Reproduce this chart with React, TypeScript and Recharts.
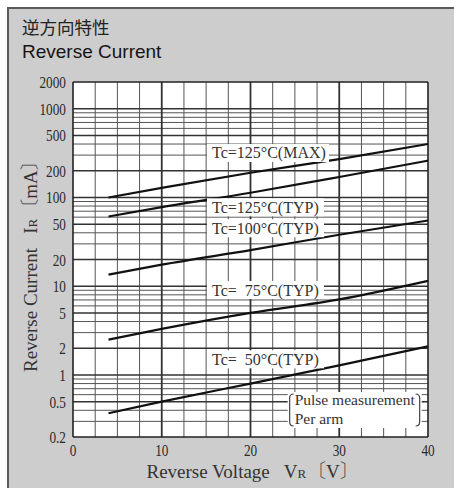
import React from 'react';
import { ComposedChart, Line, XAxis, YAxis, CartesianGrid, ReferenceLine, ReferenceDot } from 'recharts';

// ---- data ----
const voltage = [4, 10, 20, 30, 40];
const tc125Max = [100, 128, 190, 270, 400];
const tc125Typ = [61, 78, 113, 170, 260];
const tc100Typ = [13.5, 17.5, 25.5, 38, 55];
const tc75Typ = [2.5, 3.3, 5.0, 7.1, 11.5];
const tc50Typ = [0.37, 0.5, 0.8, 1.28, 2.1];

const xTicks = [0, 10, 20, 30, 40];
const yTicks = [0.2, 0.5, 1, 2, 5, 10, 20, 50, 100, 200, 500, 1000, 2000];
const yTickLabels = ['0.2', '0.5', '1', '2', '5', '10', '20', '50', '100', '200', '500', '1000', '2000'];

const xGridMinor = [2.5, 5, 7.5, 12.5, 15, 17.5, 22.5, 25, 27.5, 32.5, 35, 37.5];
const xGridMajor = [10, 20, 30];
const yGridMinor = [0.3, 0.4, 0.6, 0.7, 0.8, 0.9, 3, 4, 6, 7, 8, 9, 30, 40, 60, 70, 80, 90, 300, 400, 600, 700, 800, 900];
const yGridMajor = [0.5, 1, 2, 5, 10, 20, 50, 100, 200, 500, 1000];

const curveLabels = ['Tc=125°C(MAX)', 'Tc=125°C(TYP)', 'Tc=100°C(TYP)', 'Tc=  75°C(TYP)', 'Tc=  50°C(TYP)'];
const curveLabelV = [15.66, 15.66, 15.66, 15.66, 15.66];
const curveLabelI = [317, 77.5, 45, 9.05, 1.5];

const noteLines = ['Pulse measurement', 'Per arm'];
const noteV = 24.3;
const noteI = 0.643;

const title1 = '逆方向特性';
const title2 = 'Reverse Current';

const data = voltage.map((v, i) => ({
  v,
  max125: tc125Max[i],
  typ125: tc125Typ[i],
  typ100: tc100Typ[i],
  typ75: tc75Typ[i],
  typ50: tc50Typ[i],
}));

const SERIF = "'Liberation Serif', 'Noto Serif CJK JP', 'Noto Sans CJK JP', serif";
const SANS = "'Liberation Sans', Arial, sans-serif";
const CJK = "'Noto Sans CJK JP', sans-serif";

const YTick = (props: any) => {
  const { x, y, payload } = props;
  const idx = yTicks.findIndex((t) => Math.abs(t - payload.value) < 1e-9 * Math.max(1, t));
  const label = idx >= 0 ? yTickLabels[idx] : String(payload.value);
  return (
    <text
      transform={`translate(${x - 5} ${y + 6}) scale(0.78 1)`}
      textAnchor="end"
      fontSize={17}
      fontFamily={SERIF}
      fill="#2a2a2a"
    >
      {label}
    </text>
  );
};

const XTick = (props: any) => {
  const { x, y, payload } = props;
  return (
    <text
      transform={`translate(${x} ${y + 17}) scale(0.78 1)`}
      textAnchor="middle"
      fontSize={17}
      fontFamily={SERIF}
      fill="#2a2a2a"
    >
      {String(payload.value)}
    </text>
  );
};

const makeCurveLabel = (text: string, w: number) => (props: any) => {
  const { cx, cy } = props;
  return (
    <g>
      <rect x={cx - 5} y={cy - 9} width={w + 9} height={18} fill="#fff" />
      <text
        x={cx}
        y={cy + 5.5}
        fontSize={16}
        fontFamily={SERIF}
        fill="#333"
        style={{ whiteSpace: 'pre' }}
      >
        {text}
      </text>
    </g>
  );
};

const NoteShape = (props: any) => {
  const { cx, cy } = props;
  const w = 131;
  const h = 36;
  return (
    <g>
      <rect x={cx - 1} y={cy} width={w + 3} height={h} fill="#fff" />
      <path
        d={`M${cx + 5},${cy + 2} Q${cx + 1},${cy + 2} ${cx + 1},${cy + 6} L${cx + 1},${cy + h - 6} Q${cx + 1},${cy + h - 2} ${cx + 5},${cy + h - 2}`}
        fill="none"
        stroke="#444"
        strokeWidth={1.2}
      />
      <path
        d={`M${cx + w - 4},${cy + 2} Q${cx + w},${cy + 2} ${cx + w},${cy + 6} L${cx + w},${cy + h - 6} Q${cx + w},${cy + h - 2} ${cx + w - 4},${cy + h - 2}`}
        fill="none"
        stroke="#444"
        strokeWidth={1.2}
      />
      <text x={cx + 6} y={cy + 13} fontSize={15.5} fontFamily={SERIF} fill="#333">
        {noteLines[0]}
      </text>
      <text x={cx + 6} y={cy + 32} fontSize={15.5} fontFamily={SERIF} fill="#333">
        {noteLines[1]}
      </text>
    </g>
  );
};

const labelWidths = [113, 108, 108, 108, 108];

export default function App() {
  return (
    <div style={{ position: 'absolute', left: 0, top: 0, width: 454, height: 488 }}>
      <svg width={454} height={488} style={{ position: 'absolute', left: 0, top: 0 }}>
        <rect x={0} y={0} width={454} height={488} fill="#fff" />
        <rect x={7} y={7} width={447} height={481} fill="#cdcdcd" />
        <path d="M8,488 V8 H454" fill="none" stroke="#5a5a5a" strokeWidth={2} />
        <text x={22} y={33.5} fontSize={17.5} fontFamily={CJK} fill="#222">
          {title1}
        </text>
        <text x={22} y={58} fontSize={19} fontFamily={SANS} fill="#151515">
          {title2}
        </text>
      </svg>
      <div style={{ position: 'absolute', left: 0, top: 0 }}>
        <ComposedChart width={454} height={488} data={data} margin={{ top: 82, right: 26, left: 0, bottom: 0 }}>
          <CartesianGrid horizontal={false} vertical={false} fill="#fff" />
          {xGridMinor.map((v) => (
            <ReferenceLine key={'xm' + v} x={v} stroke="#555" strokeWidth={1} />
          ))}
          {yGridMinor.map((v) => (
            <ReferenceLine key={'ym' + v} y={v} stroke="#555" strokeWidth={1} />
          ))}
          {yGridMajor.map((v) => (
            <ReferenceLine key={'yM' + v} y={v} stroke="#333" strokeWidth={1.6} />
          ))}
          {xGridMajor.map((v) => (
            <ReferenceLine key={'xM' + v} x={v} stroke="#333" strokeWidth={1.8} />
          ))}
          <ReferenceLine x={40} stroke="#222" strokeWidth={1.6} />
          <ReferenceLine y={2000} stroke="#222" strokeWidth={1.6} />
          <XAxis
            type="number"
            dataKey="v"
            domain={[0, 40]}
            ticks={xTicks}
            interval={0}
            height={51}
            tickSize={0}
            tickLine={false}
            axisLine={{ stroke: '#222', strokeWidth: 1.6 }}
            tick={<XTick />}
            label={{
              content: (p: any) => {
                const vb = p.viewBox;
                const x0 = vb.x + vb.width / 2 - 104;
                return (
                  <text x={x0} y={478} fontSize={19} fontFamily={SERIF} fill="#333" style={{ whiteSpace: 'pre' }}>
                    {'Reverse Voltage   V'}
                    <tspan fontSize={13}>R</tspan>
                    <tspan dx={1}>〔V〕</tspan>
                  </text>
                );
              },
            }}
          />
          <YAxis
            type="number"
            scale="log"
            domain={[0.2, 2000]}
            ticks={yTicks}
            interval={0}
            allowDataOverflow
            width={73}
            tickSize={0}
            tickLine={false}
            axisLine={{ stroke: '#222', strokeWidth: 1.6 }}
            tick={<YTick />}
            label={{
              content: () => {
                return (
                  <text
                    transform="translate(37 372) rotate(-90)"
                    fontSize={19}
                    fontFamily={SERIF}
                    fill="#333"
                    style={{ whiteSpace: 'pre' }}
                  >
                    {'Reverse Current   I'}
                    <tspan fontSize={13}>R</tspan>
                    <tspan dx={1}>〔mA〕</tspan>
                  </text>
                );
              },
            }}
          />
          <Line type="monotone" dataKey="max125" stroke="#111" strokeWidth={2.2} dot={false} isAnimationActive={false} />
          <Line type="monotone" dataKey="typ125" stroke="#111" strokeWidth={2.2} dot={false} isAnimationActive={false} />
          <Line type="monotone" dataKey="typ100" stroke="#111" strokeWidth={2.2} dot={false} isAnimationActive={false} />
          <Line type="monotone" dataKey="typ75" stroke="#111" strokeWidth={2.2} dot={false} isAnimationActive={false} />
          <Line type="monotone" dataKey="typ50" stroke="#111" strokeWidth={2.2} dot={false} isAnimationActive={false} />
          {curveLabels.map((t, i) => (
            <ReferenceDot
              key={'lbl' + i}
              x={curveLabelV[i]}
              y={curveLabelI[i]}
              r={1}
              shape={makeCurveLabel(t, labelWidths[i])}
            />
          ))}
          <ReferenceDot x={noteV} y={noteI} r={1} shape={NoteShape} />
        </ComposedChart>
      </div>
    </div>
  );
}
